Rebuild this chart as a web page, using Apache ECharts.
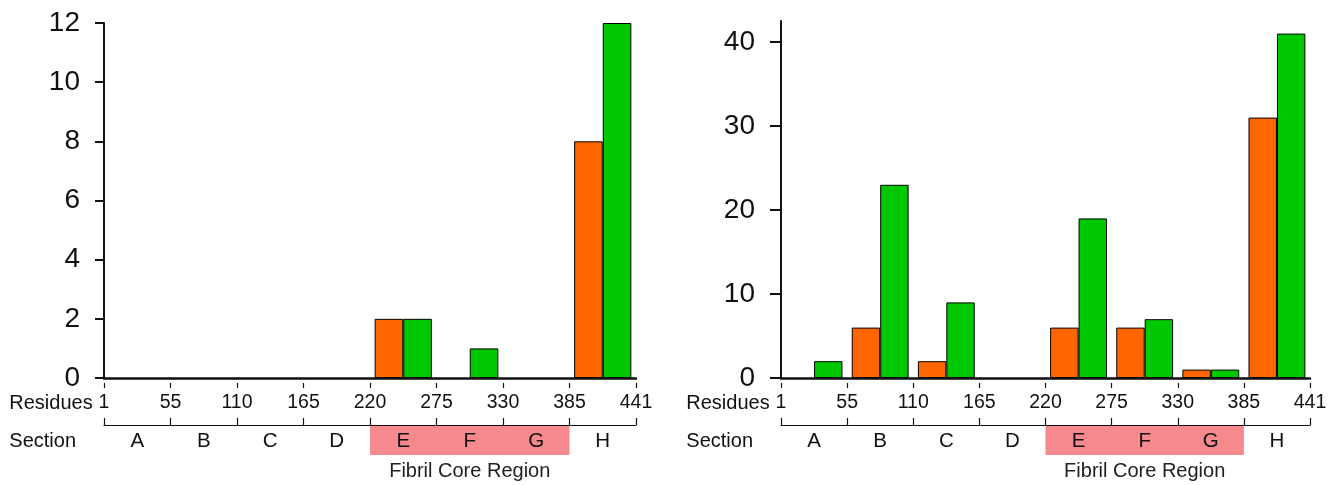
<!DOCTYPE html>
<html>
<head>
<meta charset="utf-8">
<script src="https://cdn.jsdelivr.net/npm/echarts@6/dist/echarts.min.js"></script>
<style>
  html, body { margin: 0; padding: 0; background: #ffffff; }
  #chart { width: 1334px; height: 485px; }
</style>
</head>
<body>
<div id="chart"></div>
<script>
// Tau sections and the residue numbers at their boundaries
const sections = ['A', 'B', 'C', 'D', 'E', 'F', 'G', 'H'];
const residueTicks = ['1', '55', '110', '165', '220', '275', '330', '385', '441'];

// Fibril core spans sections E..G (boundary indices)
const coreStart = 4;
const coreEnd = 7;
const coreLabel = 'Fibril Core Region';

// Left panel counts per section
const leftOrange = [0, 0, 0, 0, 2, 0, 0, 8];
const leftGreen  = [0, 0, 0, 0, 2, 1, 0, 12];
const leftYTicks = [0, 2, 4, 6, 8, 10, 12];

// Right panel counts per section
const rightOrange = [0, 6, 2, 0, 6, 6, 1, 31];
const rightGreen  = [2, 23, 9, 0, 19, 7, 1, 41];
const rightYTicks = [0, 10, 20, 30, 40];

const FONT = "'Liberation Sans', Arial, sans-serif";
const ORANGE = '#ff6600';
const GREEN = '#00c800';
const PINK = '#f5898d';
const INK = '#111111';

const chart = echarts.init(document.getElementById('chart'));

// Build the stack of bottom axes for one panel
function panelXAxes(gridIndex) {
  return [
    // bars + heavy baseline
    {
      type: 'category', gridIndex, data: sections, position: 'bottom',
      boundaryGap: true, z: 5,
      axisLine: { show: true, lineStyle: { color: INK, width: 2.5 } },
      axisTick: { show: false }, axisLabel: { show: false }
    },
    // residue tick marks
    {
      type: 'value', gridIndex, min: 0, max: 8, interval: 1, position: 'bottom', offset: 5,
      axisLine: { show: false },
      axisTick: { show: true, length: 5, lineStyle: { color: INK, width: 1.2 } },
      axisLabel: { show: false }, splitLine: { show: false }
    },
    // residue numbers
    {
      type: 'value', gridIndex, min: 0, max: 8, interval: 1, position: 'bottom', offset: 25,
      axisLine: { show: false }, axisTick: { show: false }, splitLine: { show: false },
      axisLabel: {
        show: true, margin: 0, verticalAlign: 'middle', showMinLabel: true, showMaxLabel: true,
        fontFamily: FONT, fontSize: 19.5, color: INK,
        formatter: v => residueTicks[Math.round(v)]
      },
      name: 'Residues', nameLocation: 'start', nameGap: 11,
      nameTextStyle: { fontFamily: FONT, fontSize: 20, color: INK, align: 'right', verticalAlign: 'middle' }
    },
    // section bracket
    {
      type: 'value', gridIndex, min: 0, max: 8, interval: 1, position: 'bottom', offset: 47,
      axisLine: { show: true, lineStyle: { color: INK, width: 1.2 } },
      axisTick: { show: true, inside: true, length: 7, lineStyle: { color: INK, width: 1.2 } },
      axisLabel: { show: false }, splitLine: { show: false }
    },
    // section letters
    {
      type: 'category', gridIndex, data: sections, position: 'bottom', offset: 63,
      boundaryGap: true,
      axisLine: { show: false }, axisTick: { show: false },
      axisLabel: {
        show: true, interval: 0, margin: 0, verticalAlign: 'middle',
        fontFamily: FONT, fontSize: 20.5, color: INK
      },
      name: 'Section', nameLocation: 'start', nameGap: 28,
      nameTextStyle: { fontFamily: FONT, fontSize: 20, color: INK, align: 'right', verticalAlign: 'middle' }
    }
  ];
}

function yAxis(gridIndex, max, ticks, tickLen, margin) {
  return {
    type: 'value', gridIndex, min: 0, max,
    axisLine: { show: true, lineStyle: { color: INK, width: 2 } },
    axisTick: { show: true, length: tickLen, customValues: ticks, lineStyle: { color: INK, width: 2 } },
    axisLabel: { show: true, margin, customValues: ticks, fontFamily: FONT, fontSize: 28, color: INK },
    splitLine: { show: false }
  };
}

// Empty sections carry no bar
function barSeries(xAxisIndex, yAxisIndex, values, color) {
  return {
    type: 'bar', xAxisIndex, yAxisIndex,
    data: values.map(v => (v === 0 ? '-' : v)),
    barGap: '0%', barCategoryGap: '14%',
    itemStyle: { color, borderColor: '#000000', borderWidth: 1 },
    emphasis: { disabled: true },
    animation: false
  };
}

chart.setOption({
  animation: false,
  grid: [
    { left: 104, top: 23, width: 532, height: 355 },
    { left: 781, top: 21, width: 529, height: 357 }
  ],
  xAxis: [...panelXAxes(0), ...panelXAxes(1)],
  yAxis: [
    yAxis(0, 12, leftYTicks, 9, 24),
    yAxis(1, 42.5, rightYTicks, 11, 26)
  ],
  series: [
    barSeries(0, 0, leftOrange, ORANGE),
    barSeries(0, 0, leftGreen, GREEN),
    barSeries(5, 1, rightOrange, ORANGE),
    barSeries(5, 1, rightGreen, GREEN)
  ]
});

// Shade the fibril core under the section letters, placed from the axis scale
function drawCoreRegion() {
  const elements = [];
  [0, 1].forEach(p => {
    const bracketAxis = p * 5 + 3;
    const x0 = chart.convertToPixel({ xAxisIndex: bracketAxis }, coreStart);
    const x1 = chart.convertToPixel({ xAxisIndex: bracketAxis }, coreEnd);
    const base = chart.convertToPixel({ yAxisIndex: p }, 0);
    elements.push({
      type: 'rect', z: -10,
      shape: { x: x0, y: base + 48, width: x1 - x0, height: 29 },
      style: { fill: PINK }
    });
    elements.push({
      type: 'text', z: 10, x: (x0 + x1) / 2, y: base + 93,
      style: {
        text: coreLabel, align: 'center', verticalAlign: 'middle',
        fontFamily: FONT, fontSize: 20, fill: '#222222'
      }
    });
  });
  chart.setOption({ graphic: elements });
}
drawCoreRegion();
</script>
</body>
</html>
